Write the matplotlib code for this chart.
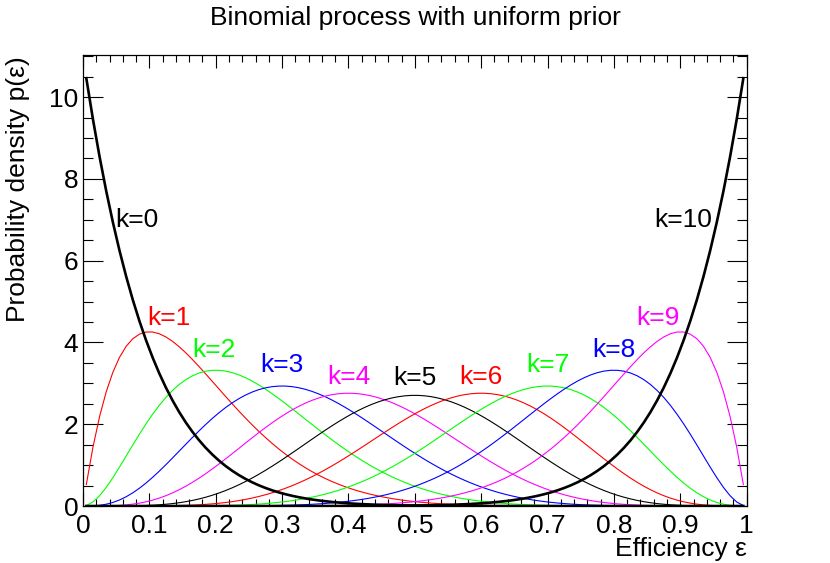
import math
import matplotlib
matplotlib.use("Agg")
import matplotlib.pyplot as plt
import numpy as np
from matplotlib.ticker import MultipleLocator

plt.rcParams['font.family'] = ['Liberation Sans', 'DejaVu Sans']
plt.rcParams['font.size'] = 19

# binomial process, n trials, k successes, uniform prior -> posterior density
n_trials = 10
k_values = [0, 1, 2, 3, 4, 5, 6, 7, 8, 9, 10]
curve_colors = ['black', 'red', '#00ff00', 'blue', 'magenta', 'black',
                'red', '#00ff00', 'blue', 'magenta', 'black']
label_x = [0.081, 0.13, 0.197, 0.30, 0.40, 0.50, 0.60, 0.70, 0.80, 0.866, 0.904]
label_y = [7.0, 4.6, 3.82, 3.45, 3.15, 3.12, 3.15, 3.45, 3.82, 4.6, 7.0]
tick_labels = ['0', '0.1', '0.2', '0.3', '0.4', '0.5', '0.6', '0.7', '0.8', '0.9', '1']

eps = np.linspace(0.005, 0.995, 100)

fig = plt.figure(figsize=(8.3, 5.63), dpi=100)
ax = fig.add_axes([0.1, 0.1012, 0.7996, 0.8011])

for k, col in zip(k_values, curve_colors):
    dens = (n_trials + 1) * math.comb(n_trials, k) * eps**k * (1 - eps)**(n_trials - k)
    thick = k in (0, n_trials)
    ax.plot(eps, dens, color=col, lw=1.9 if thick else 0.8, zorder=3 if thick else 2)

for k, col, lx, ly in zip(k_values, curve_colors, label_x, label_y):
    ax.text(lx, ly, "k=%d" % k, color=col, ha='center', va='center', fontsize=19)

ax.set_xlim(0, 1)
ax.set_ylim(0, 11.03)
ax.xaxis.set_minor_locator(MultipleLocator(0.02))
ax.yaxis.set_major_locator(MultipleLocator(2))
ax.yaxis.set_minor_locator(MultipleLocator(0.5))
ax.set_xticks(np.linspace(0, 1, 11))
ax.set_xticklabels(tick_labels)
ax.tick_params(axis='x', which='major', direction='in', length=9.4, width=0.8, top=True, pad=6)
ax.tick_params(axis='x', which='minor', direction='in', length=4.7, width=0.8, top=True)
ax.tick_params(axis='y', which='major', direction='in', length=14.4, width=0.8, right=True, pad=3.5)
ax.tick_params(axis='y', which='minor', direction='in', length=7.2, width=0.8, right=True)
for s in ax.spines.values():
    s.set_linewidth(0.9)

fig.text(0.5, 0.968, "Binomial process with uniform prior", ha='center', va='center', fontsize=19)
fig.text(0.8996, 0.024, "Efficiency \u03b5", ha='right', va='center', fontsize=19)
fig.text(0.022, 0.9, "Probability density p(\u03b5)", ha='center', va='top',
         rotation=90, fontsize=19)

plt.savefig("out.png", dpi=100)
